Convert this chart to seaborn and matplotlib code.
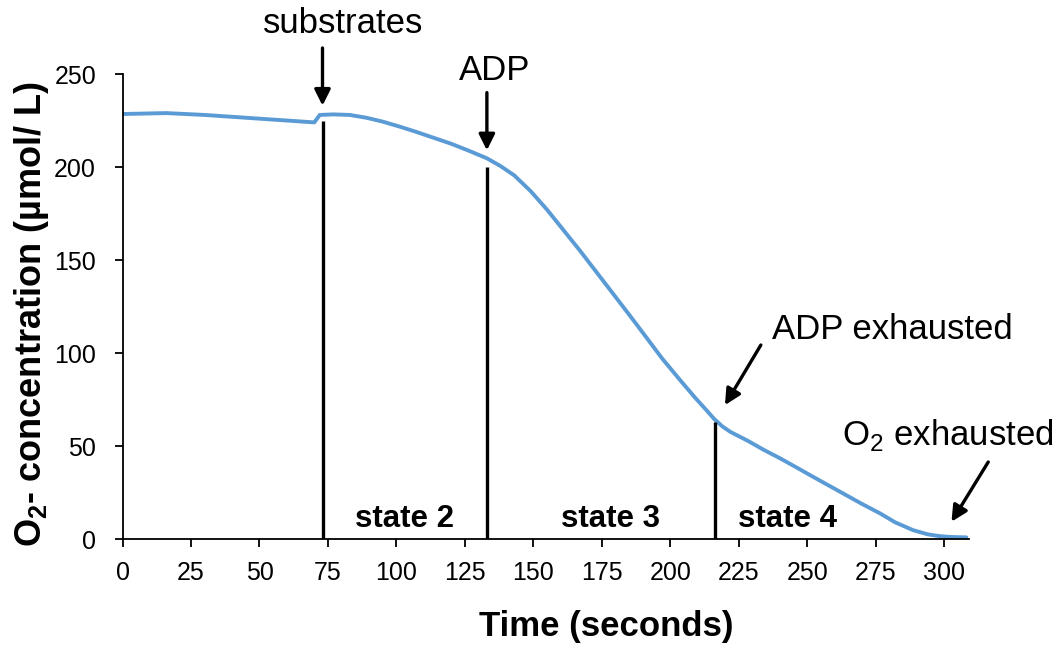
import numpy as np
import pandas as pd
import matplotlib
matplotlib.use("Agg")
import matplotlib.pyplot as plt
import seaborn as sns

# oxygen trace
time_s = [0, 16, 30, 40, 50, 60, 66, 70, 71, 72, 77, 83, 89, 95, 101, 107, 113,
          120, 126, 133, 138, 143, 149, 155, 161, 167, 173, 179, 185, 191, 197,
          203.5, 209, 213, 216, 219, 222, 228, 234, 240, 246, 252, 258, 264, 270,
          276.5, 282, 288.5, 294, 298, 301, 305, 308]
o2_conc = [228.5, 229, 228, 227, 226, 225, 224.4, 224, 226, 228, 228.3, 228, 226.5,
           224.4, 221.8, 219, 216, 212.5, 209, 204.7, 200.5, 195.5, 187, 177, 166,
           155, 143.5, 132, 120.5, 108.8, 97, 85.5, 76, 69.5, 64.5, 60.5, 57.5, 53,
           48, 43.4, 38.5, 33.5, 28.6, 23.7, 18.8, 13.8, 9, 4.8, 2.5, 1.6, 1.2, 1, 0.9]

# event markers
event_t = [73, 133, 216.2]
event_top = [225, 200, 63]

state_labels = ["state 2", "state 3", "state 4"]
state_x = [103, 178.2, 242.6]

df = pd.DataFrame({"Time": time_s, "O2": o2_conc})

sns.set_style("ticks")
plt.rcParams["font.family"] = ["Liberation Sans", "DejaVu Sans"]
plt.rcParams["mathtext.fontset"] = "custom"
plt.rcParams["mathtext.rm"] = "Liberation Sans"
plt.rcParams["mathtext.bf"] = "Liberation Sans:bold"
plt.rcParams["text.color"] = "black"
plt.rcParams["axes.labelcolor"] = "black"
plt.rcParams["xtick.color"] = "black"
plt.rcParams["ytick.color"] = "black"
plt.rcParams["axes.edgecolor"] = "black"

fig = plt.figure(figsize=(10.57, 6.46), dpi=100)
ax = fig.add_axes([0.1159, 0.1656, 0.8009, 0.7198])

sns.lineplot(data=df, x="Time", y="O2", color="#5B9BD5", linewidth=2.8, ax=ax)
ax.vlines(event_t, 0, event_top, color="black", linewidth=2.4)

ax.set_xlim(0, 309)
ax.set_ylim(0, 250)
ax.set_xticks(np.arange(0, 301, 25))
ax.set_yticks(np.arange(0, 251, 50))
ax.tick_params(labelsize=18, length=6, width=1.3, direction="out")
ax.tick_params(axis="x", pad=10)
ax.tick_params(axis="y", pad=13)
for s in ["left", "bottom"]:
    ax.spines[s].set_linewidth(1.3)
sns.despine(ax=ax)

ax.set_xlabel("Time (seconds)", fontsize=25, fontweight="bold")
ax.set_ylabel(r"O$_\mathbf{2}$- concentration (µmol/ L)", fontsize=26,
              fontweight="bold")
ax.xaxis.label.set_va("center")
ax.yaxis.label.set_va("center")
ax.xaxis.set_label_coords(0.571, -0.189)
ax.yaxis.set_label_coords(-0.107, 0.483)

for lab, x in zip(state_labels, state_x):
    ax.text(x, 10.8, lab, fontsize=22.5, fontweight="bold", ha="center", va="center")

arrow = dict(arrowstyle="-|>", color="black", lw=2.4, mutation_scale=24,
             shrinkA=0, shrinkB=0)
ax.annotate("substrates", xy=(80.5, 277), fontsize=25, ha="center", va="center",
            annotation_clip=False)
ax.annotate("", xy=(73, 233), xytext=(73, 264), annotation_clip=False, arrowprops=arrow)
ax.annotate("ADP", xy=(136, 252), fontsize=25, ha="center", va="center",
            annotation_clip=False)
ax.annotate("", xy=(133, 209), xytext=(133, 240), annotation_clip=False, arrowprops=arrow)
ax.annotate("ADP exhausted", xy=(237, 112.4), fontsize=25, ha="left", va="center",
            annotation_clip=False)
ax.annotate("", xy=(219.9, 72), xytext=(233, 104.3), annotation_clip=False, arrowprops=arrow)
ax.annotate(r"O$_2$ exhausted", xy=(262.5, 56), fontsize=25, ha="left", va="center",
            annotation_clip=False)
ax.annotate("", xy=(302.6, 9.3), xytext=(316, 41.4), annotation_clip=False, arrowprops=arrow)

fig.savefig("out.png", dpi=100)
